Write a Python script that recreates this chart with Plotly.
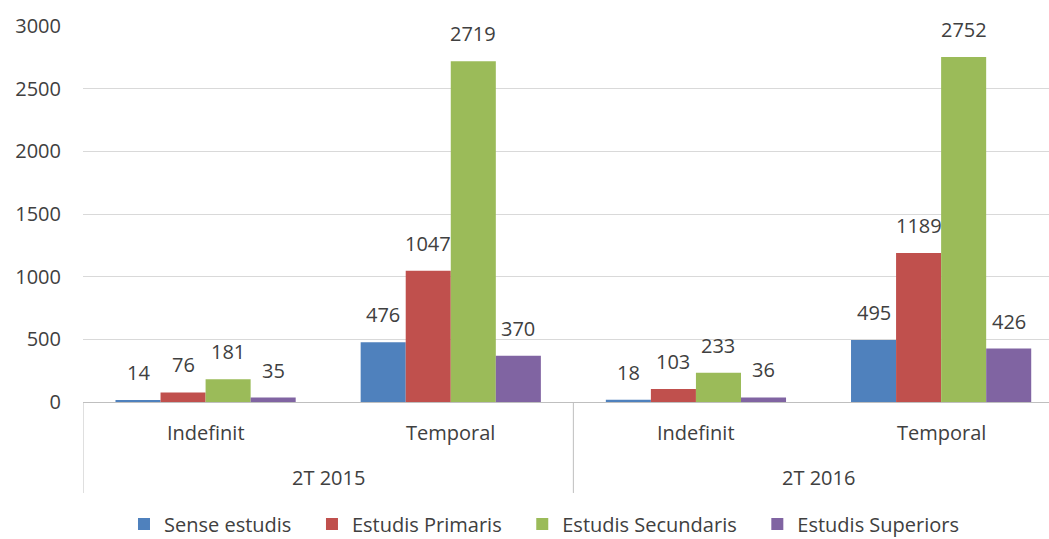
import plotly.graph_objects as go

# category levels
periods = ["2T 2015", "2T 2016"]
contracts = ["Indefinit", "Temporal", "Indefinit", "Temporal"]

# series values
sense_estudis = [14, 476, 18, 495]
estudis_primaris = [76, 1047, 103, 1189]
estudis_secundaris = [181, 2719, 233, 2752]
estudis_superiors = [35, 370, 36, 426]

series = [
    ("Sense estudis", sense_estudis, "#4F81BD"),
    ("Estudis Primaris", estudis_primaris, "#C0504D"),
    ("Estudis Secundaris", estudis_secundaris, "#9BBB59"),
    ("Estudis Superiors", estudis_superiors, "#8064A2"),
]

text_color = "#404040"
axis_color = "#BFBFBF"
font_family = "Open Sans, Noto Sans, sans-serif"
bargap = 0.265

xpos = list(range(len(contracts)))

fig = go.Figure()
for name, vals, color in series:
    fig.add_trace(go.Bar(
        x=xpos,
        y=vals,
        name=name + "\u00a0\u00a0\u00a0",
        marker=dict(color=color, line=dict(width=0)),
    ))

# value labels above the bars
bar_w = (1 - bargap) / len(series)
annotations = []
for k, (name, vals, color) in enumerate(series):
    off = (k - (len(series) - 1) / 2) * bar_w
    for i, v in enumerate(vals):
        annotations.append(dict(
            x=i + off, y=v, xref="x", yref="y",
            text=str(v), showarrow=False,
            yanchor="bottom", yshift=12,
            font=dict(size=20, color=text_color),
        ))

# category labels (inner and outer level)
for i, c in enumerate(contracts):
    annotations.append(dict(
        x=i, y=-0.082, xref="x", yref="paper",
        text=c, showarrow=False, yanchor="middle",
        font=dict(size=20, color=text_color),
    ))
for j, p in enumerate(periods):
    annotations.append(dict(
        x=2 * j + 0.5, y=-0.202, xref="x", yref="paper",
        text=p, showarrow=False, yanchor="middle",
        font=dict(size=20, color=text_color),
    ))

# group dividers below the axis
shapes = []
for b in [-0.5, 1.5, 3.5]:
    shapes.append(dict(
        type="line", xref="x", yref="paper",
        x0=b, x1=b, y0=0, y1=-0.242,
        line=dict(color=axis_color, width=1),
    ))

fig.update_layout(
    width=1049,
    height=550,
    margin=dict(l=83, r=0, t=26, b=148),
    paper_bgcolor="white",
    plot_bgcolor="white",
    barmode="group",
    bargap=bargap,
    bargroupgap=0,
    font=dict(family=font_family, size=20, color=text_color),
    annotations=annotations,
    shapes=shapes,
    legend=dict(
        orientation="h",
        x=0.4855, xanchor="center",
        y=-0.3245, yanchor="middle",
        font=dict(size=20, color=text_color),
        itemwidth=30,
        traceorder="normal",
    ),
    xaxis=dict(
        range=[-0.5, 3.44],
        showline=True,
        linecolor=axis_color,
        linewidth=1,
        showgrid=False,
        zeroline=False,
        showticklabels=False,
        ticks="",
        automargin=False,
    ),
    yaxis=dict(
        range=[0, 3000],
        tickvals=[0, 500, 1000, 1500, 2000, 2500, 3000],
        showgrid=True,
        gridcolor="#D9D9D9",
        gridwidth=1,
        zeroline=False,
        showline=False,
        ticks="outside",
        ticklen=17,
        tickcolor="rgba(0,0,0,0)",
        tickfont=dict(size=20, color=text_color),
        automargin=False,
    ),
)

fig.write_html(
    "out.html",
    config={"displayModeBar": False},
    post_script="document.body.style.margin='0';document.body.style.overflow='hidden';",
)
